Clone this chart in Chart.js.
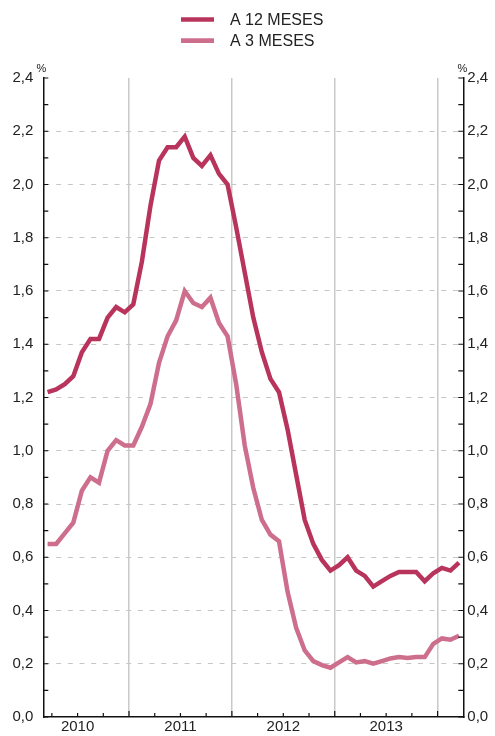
<!DOCTYPE html>
<html>
<head>
<meta charset="utf-8">
<script src="https://cdn.jsdelivr.net/npm/chart.js@4/dist/chart.umd.min.js"></script>
<style>
html,body{margin:0;padding:0;background:#fff;}
#wrap{width:495px;height:736px;position:relative;}
</style>
</head>
<body>
<div id="wrap"><canvas id="c" width="495" height="736"></canvas></div>
<script>
// ---- data ----
const months = [
  "2010-03","2010-04","2010-05","2010-06","2010-07","2010-08","2010-09","2010-10","2010-11","2010-12",
  "2011-01","2011-02","2011-03","2011-04","2011-05","2011-06","2011-07","2011-08","2011-09","2011-10","2011-11","2011-12",
  "2012-01","2012-02","2012-03","2012-04","2012-05","2012-06","2012-07","2012-08","2012-09","2012-10","2012-11","2012-12",
  "2013-01","2013-02","2013-03","2013-04","2013-05","2013-06","2013-07","2013-08","2013-09","2013-10","2013-11","2013-12",
  "2014-01","2014-02","2014-03"
];
const seriesNames = ["A 12 MESES", "A 3 MESES"];
const a12Meses = [1.22,1.23,1.25,1.28,1.37,1.42,1.42,1.50,1.54,1.52,
  1.55,1.71,1.92,2.09,2.14,2.14,2.18,2.10,2.07,2.11,2.04,2.00,
  1.84,1.67,1.50,1.37,1.27,1.22,1.08,0.91,0.74,0.65,0.59,0.55,
  0.57,0.60,0.55,0.53,0.49,0.51,0.53,0.545,0.545,0.545,0.51,0.54,
  0.56,0.55,0.58];
const a3Meses = [0.65,0.65,0.69,0.73,0.85,0.90,0.88,1.00,1.04,1.02,
  1.02,1.09,1.175,1.33,1.43,1.49,1.60,1.555,1.54,1.575,1.48,1.43,
  1.25,1.02,0.86,0.74,0.685,0.66,0.47,0.335,0.25,0.21,0.195,0.185,
  0.205,0.225,0.205,0.21,0.20,0.21,0.22,0.225,0.222,0.225,0.225,0.275,
  0.295,0.29,0.305];
const yTicks = [0.0,0.2,0.4,0.6,0.8,1.0,1.2,1.4,1.6,1.8,2.0,2.2,2.4];
const unitLabel = "%";

// ---- styles ----
const COL12 = "#B8345C";
const COL3 = "#CD6E8C";
const FONT = '"Liberation Sans", Arial, Helvetica, sans-serif';

// derived axis helpers (from the month labels)
const yearBoundaries = [];
const yearMids = [];
const quarterMarks = [];
months.forEach((m, i) => {
  const mm = m.slice(5);
  if (mm === "01") yearBoundaries.push(i - 0.5);
  if (mm === "07") yearMids.push({ v: i - 0.5, label: m.slice(0, 4) });
  if (["01","04","07","10"].includes(mm)) quarterMarks.push(i - 0.5);
});
const xTickValues = yearBoundaries.concat(yearMids.map(d => d.v)).sort((a, b) => a - b);
const yMinor = [];
for (let k = 0; k < yTicks.length - 1; k++) yMinor.push((yTicks[k] + yTicks[k + 1]) / 2);

const fmt = v => v.toFixed(1).replace(".", ",");

const deco = {
  id: "deco",
  afterDraw(chart) {
    const { ctx, chartArea: a, scales } = chart;
    const ys = scales.y, xs = scales.x;
    ctx.save();
    ctx.strokeStyle = "#111";
    ctx.lineWidth = 1.2;
    yTicks.concat(yMinor).forEach(v => {
      const py = ys.getPixelForValue(v);
      ctx.beginPath();
      ctx.moveTo(a.left, py); ctx.lineTo(a.left + 5, py);
      ctx.moveTo(a.right, py); ctx.lineTo(a.right - 5, py);
      ctx.stroke();
    });
    quarterMarks.forEach(v => {
      const px = xs.getPixelForValue(v);
      const len = yearBoundaries.includes(v) ? 6 : 4;
      ctx.beginPath();
      ctx.moveTo(px, a.bottom); ctx.lineTo(px, a.bottom - len);
      ctx.stroke();
    });
    // unit labels
    ctx.fillStyle = "#222";
    ctx.font = "11px " + FONT;
    ctx.textAlign = "center";
    ctx.textBaseline = "alphabetic";
    ctx.fillText(unitLabel, a.left - 2, a.top - 6);
    ctx.fillText(unitLabel, a.right - 1, a.top - 6);
    // legend
    ctx.font = "16px " + FONT;
    ctx.textAlign = "left";
    ctx.textBaseline = "middle";
    chart.data.datasets.forEach((ds, i) => {
      const cy = 19.5 + i * 21.2;
      ctx.strokeStyle = ds.borderColor;
      ctx.lineWidth = 4.7;
      ctx.beginPath();
      ctx.moveTo(181, cy); ctx.lineTo(214, cy);
      ctx.stroke();
      ctx.fillStyle = "#222";
      ctx.fillText(ds.label, 230, cy + 1);
    });
    ctx.restore();
  }
};

new Chart(document.getElementById("c"), {
  type: "line",
  data: {
    datasets: [
      { label: seriesNames[0], data: a12Meses.map((v, i) => ({ x: i, y: v })),
        borderColor: COL12, backgroundColor: COL12, borderWidth: 4.5, pointRadius: 0,
        tension: 0, borderJoinStyle: "miter", yAxisID: "y" },
      { label: seriesNames[1], data: a3Meses.map((v, i) => ({ x: i, y: v })),
        borderColor: COL3, backgroundColor: COL3, borderWidth: 4.5, pointRadius: 0,
        tension: 0, borderJoinStyle: "miter", yAxisID: "y" }
    ]
  },
  options: {
    responsive: false,
    animation: false,
    events: [],
    layout: { padding: { top: 78, left: 0, right: 0, bottom: 0 } },
    plugins: { legend: { display: false }, tooltip: { enabled: false } },
    scales: {
      x: {
        type: "linear", position: "bottom",
        min: -0.5, max: months.length - 0.5,
        afterBuildTicks: s => { s.ticks = xTickValues.map(v => ({ value: v })); },
        afterFit: s => { s.height = 16; },
        grid: {
          drawTicks: false,
          lineWidth: 1.5,
          color: c => (c.tick && yearBoundaries.includes(c.tick.value)) ? "#c9c9c9" : "rgba(0,0,0,0)"
        },
        border: { display: true, color: "#111", width: 1.5 },
        ticks: {
          autoSkip: false, maxRotation: 0, minRotation: 0, padding: 1,
          color: "#222", font: { family: FONT, size: 15 },
          callback: v => { const d = yearMids.find(m => m.v === v); return d ? d.label : ""; }
        }
      },
      y: {
        position: "left", min: 0, max: 2.4,
        afterBuildTicks: s => { s.ticks = yTicks.map(v => ({ value: v })); },
        afterFit: s => { s.width = 43.3; },
        grid: {
          drawTicks: false, lineWidth: 1,
          color: c => (c.tick && c.tick.value > 0.01 && c.tick.value < 2.39) ? "#c6c6c6" : "rgba(0,0,0,0)"
        },
        border: { display: true, color: "#111", width: 1.5, dash: [5, 6.67] },
        ticks: { padding: 10, color: "#222", font: { family: FONT, size: 15 }, callback: v => fmt(v) }
      },
      y2: {
        position: "right", min: 0, max: 2.4,
        afterBuildTicks: s => { s.ticks = yTicks.map(v => ({ value: v })); },
        afterFit: s => { s.width = 31.7; },
        grid: { display: false, drawTicks: false },
        border: { display: true, color: "#111", width: 1.5 },
        ticks: { padding: 4, color: "#222", font: { family: FONT, size: 15 }, callback: v => fmt(v) }
      }
    }
  },
  plugins: [deco]
});
</script>
</body>
</html>
